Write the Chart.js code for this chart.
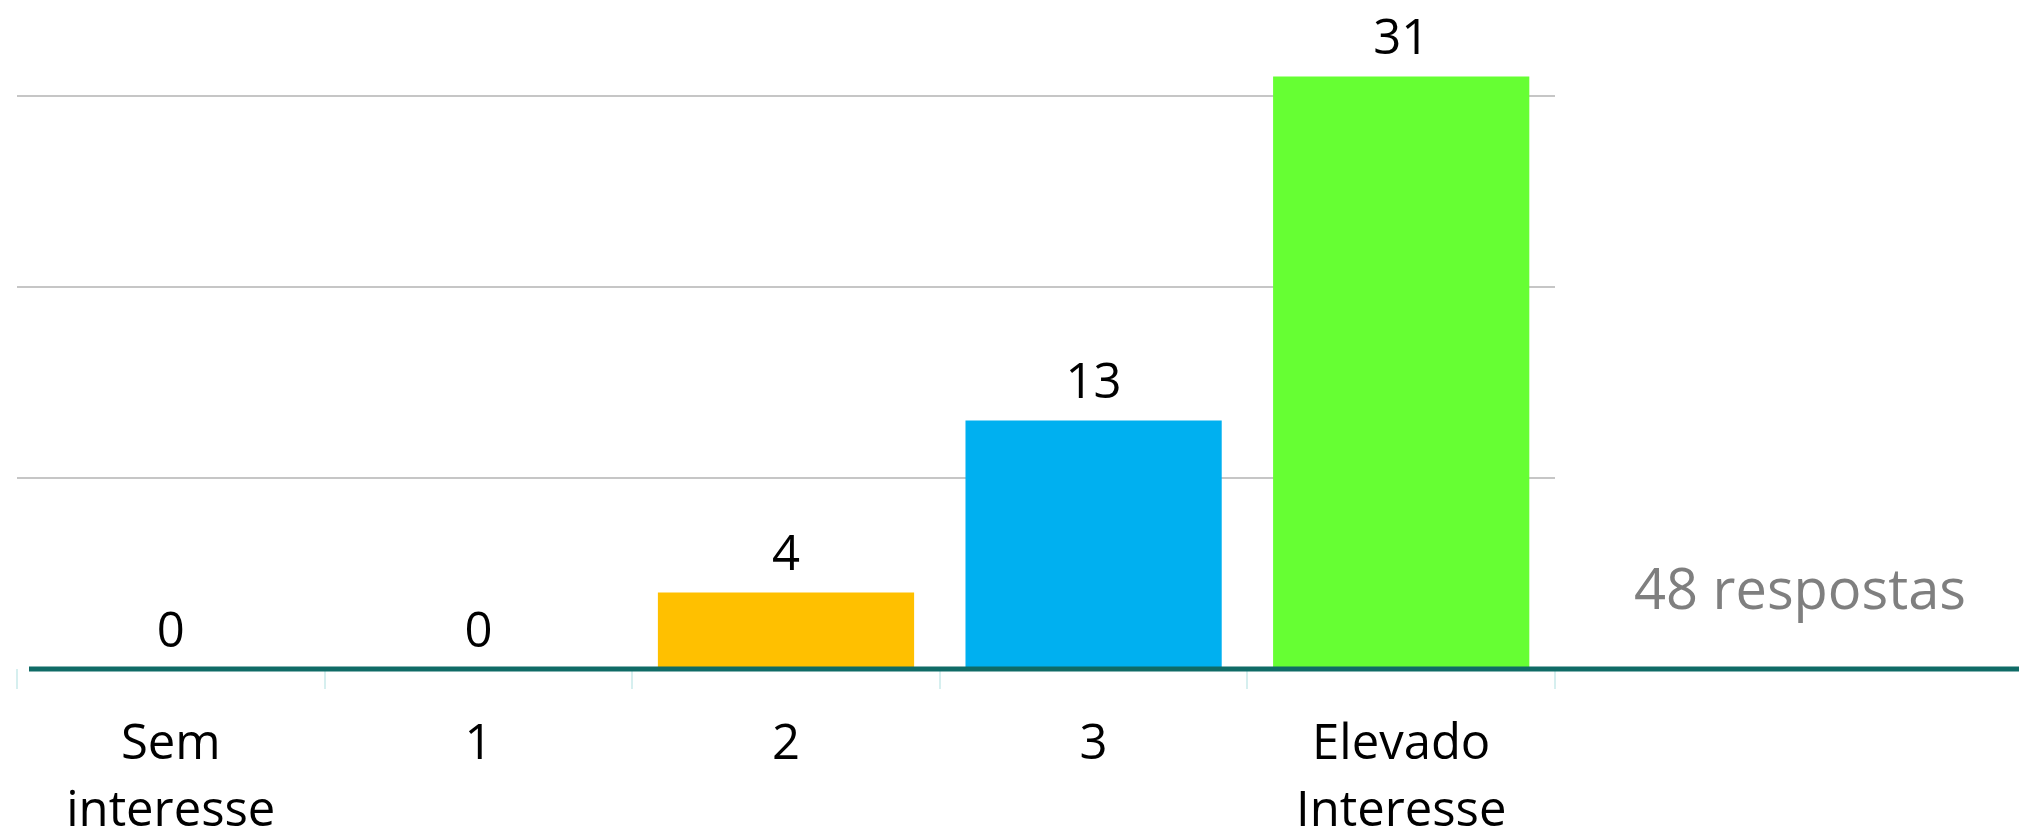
<!DOCTYPE html>
<html>
<head>
<meta charset="utf-8">
<script src="https://cdn.jsdelivr.net/npm/chart.js@4"></script>
<style>
  html, body { margin: 0; padding: 0; background: #ffffff; }
  #wrap { width: 2019px; height: 836px; position: relative; }
</style>
</head>
<body>
<div id="wrap"><canvas id="c" width="2019" height="836"></canvas></div>
<script>
const categories = [["Sem", "interesse"], "1", "2", "3", ["Elevado", "Interesse"]];
const values = [0, 0, 4, 13, 31];
const barColors = ["#FFC000", "#FFC000", "#FFC000", "#00B0F0", "#66FF33"];
const gridValues = [10, 20, 30];
const totalNote = "48 respostas";

const FONT = "'Open Sans', Lato, sans-serif";

const extras = {
  id: 'extras',
  afterDatasetsDraw(chart) {
    const ctx = chart.ctx;
    const y = chart.scales.y;
    const y0 = y.getPixelForValue(0);
    // axis line
    ctx.save();
    ctx.strokeStyle = '#0f6b66';
    ctx.lineWidth = 5;
    ctx.beginPath();
    ctx.moveTo(chart.chartArea.left + 12, y0);
    ctx.lineTo(chart.width, y0);
    ctx.stroke();
    // value labels
    const meta = chart.getDatasetMeta(0);
    ctx.fillStyle = '#000000';
    ctx.font = "49px " + FONT;
    ctx.textAlign = 'center';
    ctx.textBaseline = 'middle';
    meta.data.forEach((bar, i) => {
      ctx.fillText(String(values[i]), bar.x, bar.y - 36);
    });
    // note
    ctx.fillStyle = '#7f7f7f';
    ctx.font = "56px " + FONT;
    ctx.fillText(totalNote, 1800, y.getPixelForValue(4) + 1);
    ctx.restore();
  }
};

new Chart(document.getElementById('c'), {
  type: 'bar',
  data: {
    labels: categories,
    datasets: [{
      data: values,
      backgroundColor: barColors,
      borderWidth: 0,
      categoryPercentage: 1.0,
      barPercentage: 0.833
    }]
  },
  options: {
    responsive: false,
    animation: false,
    events: [],
    layout: { padding: { top: 0, right: 464, bottom: 0, left: 0 } },
    plugins: { legend: { display: false }, tooltip: { enabled: false } },
    scales: {
      x: {
        grid: {
          offset: true,
          drawOnChartArea: false,
          drawTicks: true,
          tickLength: 20,
          color: '#d6efef',
          lineWidth: 2
        },
        border: { display: false },
        ticks: {
          color: '#000000',
          font: { family: FONT, size: 49, lineHeight: 1.37 },
          padding: 22,
          maxRotation: 0,
          autoSkip: false
        },
        afterFit(scale) { scale.height = 836 - 669; }
      },
      y: {
        min: 0,
        max: 35,
        ticks: { display: false, stepSize: 10 },
        border: { display: false },
        grid: {
          drawTicks: false,
          lineWidth: 2,
          color: (c) => (c.tick && gridValues.includes(c.tick.value)) ? '#c6c6c6' : 'rgba(0,0,0,0)'
        },
        afterFit(scale) { scale.width = 17; }
      }
    }
  },
  plugins: [extras]
});
</script>
</body>
</html>
